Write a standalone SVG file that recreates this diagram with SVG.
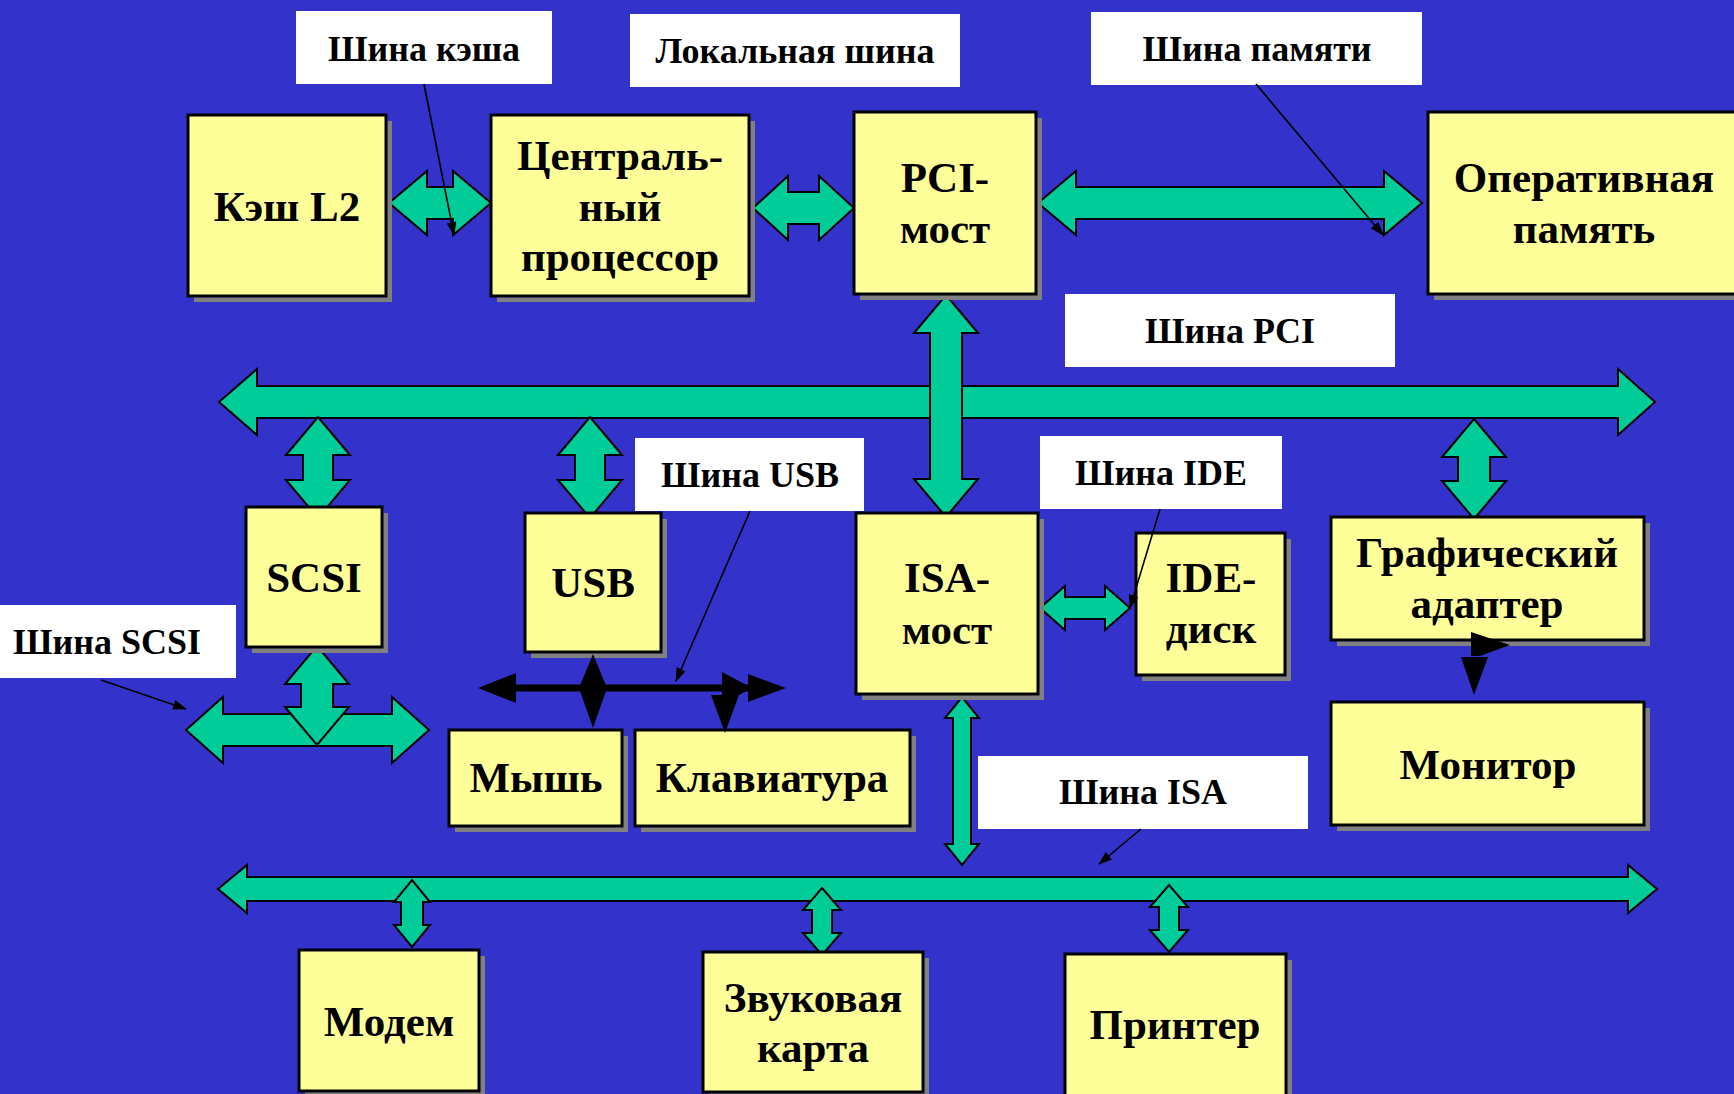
<svg xmlns="http://www.w3.org/2000/svg" width="1734" height="1094" viewBox="0 0 1734 1094">
<defs>
<style>
.box{fill:#FFFF99;stroke:#000;stroke-width:3}
.sh{fill:#808080}
.lbl{fill:#fff}
.arr{fill:#00CC99;stroke:#000;stroke-width:2;stroke-linejoin:miter}
.blk{fill:#000}
.t{font-family:"Liberation Serif","Times New Roman",serif;font-weight:bold;font-size:43px;text-anchor:middle;fill:#000}
.bt{font-size:36px}
.ptr{stroke:#000;stroke-width:1.6;fill:none;marker-end:url(#ah)}
</style>
<marker id="ah" markerUnits="userSpaceOnUse" markerWidth="14" markerHeight="10" refX="13" refY="5" orient="auto">
<path d="M0,0 L14,5 L0,10 Z" fill="#000"/>
</marker>
</defs>
<rect width="1734" height="1094" fill="#3333CC"/>

<g id="connectors">
<polygon class="arr" points="389,203 427,171 427,187 453,187 453,171 491,203 453,235 453,219 427,219 427,235"/>
<polygon class="arr" points="753,208 788,176 788,192 819,192 819,176 854,208 819,240 819,224 788,224 788,240"/>
<polygon class="arr" points="1038,203 1076,171 1076,187 1384,187 1384,171 1422,203 1384,235 1384,219 1076,219 1076,235"/>
<polygon class="arr" points="219,402 257,369 257,386 1618,386 1618,369 1655,402 1618,435 1618,418 257,418 257,435"/>
<polygon class="arr" points="946,295 978,333 962,333 962,479 978,479 946,517 914,479 930,479 930,333 914,333"/>
<polygon class="arr" points="318,417 350,455 333,455 333,480 350,480 318,518 286,480 303,480 303,455 286,455"/>
<polygon class="arr" points="590,417 622,455 605,455 605,480 622,480 590,518 558,480 575,480 575,455 558,455"/>
<polygon class="arr" points="1474,419 1506,457 1490,457 1490,481 1506,481 1474,519 1442,481 1458,481 1458,457 1442,457"/>
<polygon class="arr" points="1040,608 1065,586 1065,597 1105,597 1105,586 1130,608 1105,630 1105,619 1065,619 1065,630"/>
<polygon class="arr" points="186,730 223,697 223,714 392,714 392,697 429,730 392,763 392,746 223,746 223,763"/>
<polygon class="arr" points="317,646 349,684 333,684 333,707 349,707 317,745 285,707 301,707 301,684 285,684"/>
<polygon class="arr" points="962,697 979,718 971,718 971,844 979,844 962,865 945,844 953,844 953,718 945,718"/>
<polygon class="arr" points="218,889 247,865 247,877 1628,877 1628,865 1657,889 1628,913 1628,901 247,901 247,913"/>
<polygon class="arr" points="412,880 430,902 423,902 423,925 430,925 412,947 394,925 401,925 401,902 394,902"/>
<polygon class="arr" points="822,888 841,910 832,910 832,933 841,933 822,955 803,933 812,933 812,910 803,910"/>
<polygon class="arr" points="1169,885 1188,907 1179,907 1179,930 1188,930 1169,952 1150,930 1159,930 1159,907 1150,907"/>
</g>

<g id="n-cache"><rect class="sh" x="194" y="121" width="198" height="181"/><rect class="box" x="188" y="115" width="198" height="181"/><text class="t" x="287" y="221">Кэш L2</text></g>
<g id="n-cpu"><rect class="sh" x="497" y="121" width="258" height="181"/><rect class="box" x="491" y="115" width="258" height="181"/><text class="t" x="620" y="170">Централь-</text><text class="t" x="620" y="221">ный</text><text class="t" x="620" y="271">процессор</text></g>
<g id="n-pci"><rect class="sh" x="860" y="118" width="182" height="182"/><rect class="box" x="854" y="112" width="182" height="182"/><text class="t" x="945" y="192">PCI-</text><text class="t" x="945" y="243">мост</text></g>
<g id="n-ram"><rect class="sh" x="1434" y="118" width="320" height="182"/><rect class="box" x="1428" y="112" width="320" height="182"/><text class="t" x="1584" y="192">Оперативная</text><text class="t" x="1584" y="243">память</text></g>
<g id="n-scsi"><rect class="sh" x="252" y="513" width="136" height="140"/><rect class="box" x="246" y="507" width="136" height="140"/><text class="t" x="314" y="592">SCSI</text></g>
<g id="n-usb"><rect class="sh" x="531" y="519" width="136" height="139"/><rect class="box" x="525" y="513" width="136" height="139"/><text class="t" x="593" y="597">USB</text></g>
<g id="n-isa"><rect class="sh" x="862" y="519" width="182" height="181"/><rect class="box" x="856" y="513" width="182" height="181"/><text class="t" x="947" y="592">ISA-</text><text class="t" x="947" y="644">мост</text></g>
<g id="n-ide"><rect class="sh" x="1142" y="539" width="149" height="142"/><rect class="box" x="1136" y="533" width="149" height="142"/><text class="t" x="1211" y="592">IDE-</text><text class="t" x="1211" y="643">диск</text></g>
<g id="n-gpu"><rect class="sh" x="1337" y="523" width="313" height="123"/><rect class="box" x="1331" y="517" width="313" height="123"/><text class="t" x="1487" y="567">Графический</text><text class="t" x="1487" y="618">адаптер</text></g>
<g id="n-mon"><rect class="sh" x="1337" y="708" width="313" height="123"/><rect class="box" x="1331" y="702" width="313" height="123"/><text class="t" x="1488" y="779">Монитор</text></g>
<g id="n-mouse"><rect class="sh" x="455" y="736" width="173" height="96"/><rect class="box" x="449" y="730" width="173" height="96"/><text class="t" x="536" y="792">Мышь</text></g>
<g id="n-kbd"><rect class="sh" x="641" y="736" width="275" height="96"/><rect class="box" x="635" y="730" width="275" height="96"/><text class="t" x="772" y="792">Клавиатура</text></g>
<g id="n-modem"><rect class="sh" x="305" y="956" width="180" height="141"/><rect class="box" x="299" y="950" width="180" height="141"/><text class="t" x="389" y="1036">Модем</text></g>
<g id="n-sound"><rect class="sh" x="709" y="958" width="220" height="140"/><rect class="box" x="703" y="952" width="220" height="140"/><text class="t" x="813" y="1012">Звуковая</text><text class="t" x="813" y="1062">карта</text></g>
<g id="n-printer"><rect class="sh" x="1071" y="960" width="221" height="150"/><rect class="box" x="1065" y="954" width="221" height="150"/><text class="t" x="1175" y="1039">Принтер</text></g>

<g id="black-connectors">
<line x1="505" y1="688" x2="760" y2="688" stroke="#000" stroke-width="7"/>
<polygon class="blk" points="478,688 516,673 516,703"/>
<polygon class="blk" points="722,672 752,688 722,704"/>
<polygon class="blk" points="748,674 786,688 748,702"/>
<polygon class="blk" points="593,654 607,688 593,728 579,688"/>
<polygon class="blk" points="711,695 739,695 725,733"/>
<polygon class="blk" points="1471,632 1510,645 1480,656 1471,656"/>
<polygon class="blk" points="1461,657 1488,657 1474,695"/>
</g>

<g id="l-cache"><rect class="lbl" x="296" y="11" width="256" height="73"/><text class="t bt" x="424" y="61">Шина кэша</text></g>
<g id="l-local"><rect class="lbl" x="630" y="14" width="330" height="73"/><text class="t bt" x="795" y="63">Локальная шина</text></g>
<g id="l-mem"><rect class="lbl" x="1091" y="12" width="331" height="73"/><text class="t bt" x="1257" y="61">Шина памяти</text></g>
<g id="l-pci"><rect class="lbl" x="1065" y="294" width="330" height="73"/><text class="t bt" x="1230" y="343">Шина PCI</text></g>
<g id="l-usb"><rect class="lbl" x="635" y="438" width="229" height="73"/><text class="t bt" x="750" y="487">Шина USB</text></g>
<g id="l-ide"><rect class="lbl" x="1040" y="436" width="242" height="73"/><text class="t bt" x="1161" y="485">Шина IDE</text></g>
<g id="l-scsi"><rect class="lbl" x="0" y="605" width="236" height="73"/><text class="t bt" x="107" y="654">Шина SCSI</text></g>
<g id="l-isa"><rect class="lbl" x="978" y="756" width="330" height="73"/><text class="t bt" x="1143" y="804">Шина ISA</text></g>

<g id="pointers">
<line class="ptr" x1="424" y1="84" x2="454" y2="235"/>
<line class="ptr" x1="1256" y1="84" x2="1383" y2="235"/>
<line class="ptr" x1="750" y1="511" x2="676" y2="681"/>
<line class="ptr" x1="1160" y1="509" x2="1130" y2="608"/>
<line class="ptr" x1="101" y1="680" x2="186" y2="709"/>
<line class="ptr" x1="1141" y1="829" x2="1099" y2="864"/>
</g>
</svg>
